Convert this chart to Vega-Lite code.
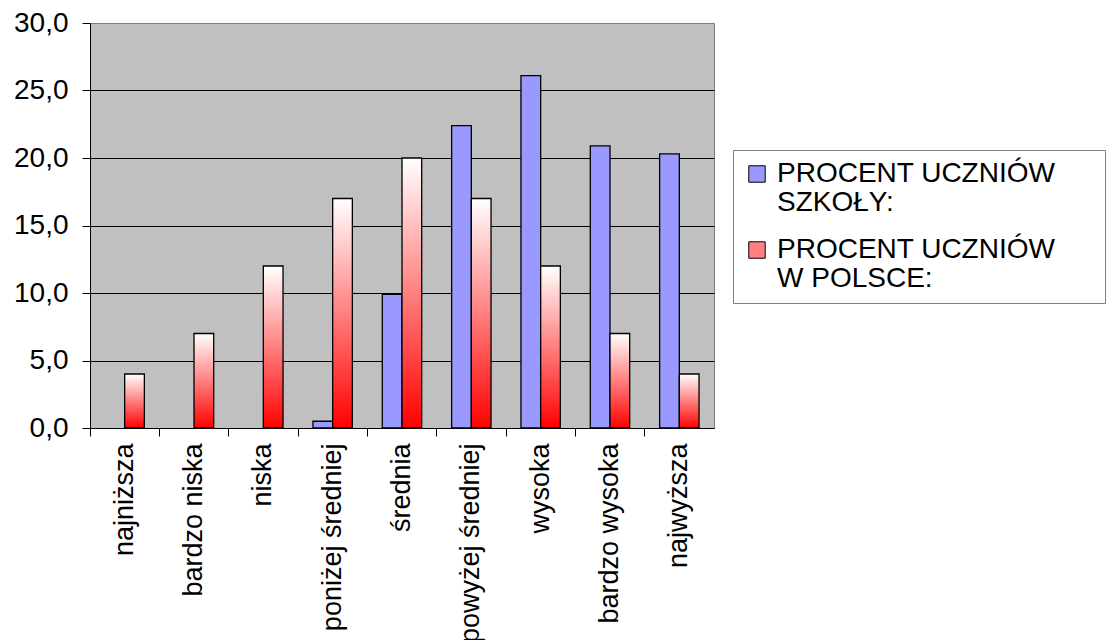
{
  "$schema": "https://vega.github.io/schema/vega-lite/v6.json",
  "autosize": {"type": "none"},
  "padding": {"left": 90, "top": 23, "right": 398, "bottom": 212},
  "width": 624,
  "height": 405,
  "background": "white",
  "config": {
    "view": {"fill": "#C0C0C0", "stroke": "#808080", "strokeWidth": 1},
    "font": "Liberation Sans",
    "axis": {"labelFont": "Liberation Sans", "labelFontSize": 28, "labelColor": "black", "domainColor": "black", "tickColor": "black", "tickSize": 8, "title": null}
  },
  "data": {"values": [
    {"kategoria": "najniższa", "seria": "PROCENT UCZNIÓW W POLSCE:", "procent": 4},
    {"kategoria": "bardzo niska", "seria": "PROCENT UCZNIÓW W POLSCE:", "procent": 7},
    {"kategoria": "niska", "seria": "PROCENT UCZNIÓW W POLSCE:", "procent": 12},
    {"kategoria": "poniżej średniej", "seria": "PROCENT UCZNIÓW W POLSCE:", "procent": 17},
    {"kategoria": "średnia", "seria": "PROCENT UCZNIÓW W POLSCE:", "procent": 20},
    {"kategoria": "powyżej średniej", "seria": "PROCENT UCZNIÓW W POLSCE:", "procent": 17},
    {"kategoria": "wysoka", "seria": "PROCENT UCZNIÓW W POLSCE:", "procent": 12},
    {"kategoria": "bardzo wysoka", "seria": "PROCENT UCZNIÓW W POLSCE:", "procent": 7},
    {"kategoria": "najwyższa", "seria": "PROCENT UCZNIÓW W POLSCE:", "procent": 4},
    {"kategoria": "poniżej średniej", "seria": "PROCENT UCZNIÓW SZKOŁY:", "procent": 0.5},
    {"kategoria": "średnia", "seria": "PROCENT UCZNIÓW SZKOŁY:", "procent": 9.9},
    {"kategoria": "powyżej średniej", "seria": "PROCENT UCZNIÓW SZKOŁY:", "procent": 22.4},
    {"kategoria": "wysoka", "seria": "PROCENT UCZNIÓW SZKOŁY:", "procent": 26.1},
    {"kategoria": "bardzo wysoka", "seria": "PROCENT UCZNIÓW SZKOŁY:", "procent": 20.9},
    {"kategoria": "najwyższa", "seria": "PROCENT UCZNIÓW SZKOŁY:", "procent": 20.3}
  ]},
  "encoding": {
    "x": {
      "field": "kategoria", "type": "nominal",
      "sort": ["najniższa", "bardzo niska", "niska", "poniżej średniej", "średnia", "powyżej średniej", "wysoka", "bardzo wysoka", "najwyższa"],
      "scale": {"paddingInner": 0, "paddingOuter": 0},
      "axis": {"labelAngle": -90, "bandPosition": 0, "labelPadding": 7, "labelFontSize": 27, "labelLimit": 300, "grid": false}
    },
    "xOffset": {"field": "seria", "type": "nominal", "scale": {"domain": ["PROCENT UCZNIÓW SZKOŁY:", "PROCENT UCZNIÓW W POLSCE:"], "paddingInner": 0, "paddingOuter": 0.76}},
    "y": {
      "field": "procent", "type": "quantitative",
      "scale": {"domain": [0, 30], "nice": false},
      "axis": {"values": [0, 5, 10, 15, 20, 25, 30], "labelExpr": "replace(format(datum.value, '.1f'), '.', ',')", "labelPadding": 14, "grid": true, "gridColor": {"condition": {"test": "datum.value === 30", "value": "#808080"}, "value": "black"}, "gridWidth": 1}
    }
  },
  "layer": [
    {
      "transform": [{"filter": "datum.seria === 'PROCENT UCZNIÓW SZKOŁY:'"}],
      "mark": {"type": "bar", "stroke": "black", "strokeWidth": 1.3},
      "encoding": {
        "fill": {
          "field": "seria", "type": "nominal",
          "scale": {"domain": ["PROCENT UCZNIÓW SZKOŁY:", "PROCENT UCZNIÓW W POLSCE:"], "range": ["#9999FF", "#FF8080"]},
          "legend": {
            "title": null,
            "orient": "none",
            "legendX": 643,
            "legendY": 127,
            "padding": 10,
            "strokeColor": "#808080",
            "fillColor": "white",
            "symbolType": "square",
            "symbolSize": 270,
            "symbolStrokeColor": "black",
            "symbolStrokeWidth": 1,
            "labelFont": "Liberation Sans",
            "labelFontSize": 28,
            "labelColor": "black",
            "labelLimit": 500,
            "labelOffset": 6,
            "labelBaseline": "top",
            "rowPadding": 19,
            "labelExpr": "[slice(datum.label, 0, 15) + '\u00a0\u00a0\u00a0\u00a0\u00a0\u200b', slice(datum.label, 16)]",
            "encode": {
              "labels": {"update": {"lineHeight": {"value": 29}, "dy": {"value": -14}}},
              "symbols": {"update": {
                "stroke": {"value": "black"},
                "strokeWidth": {"value": 1},
                "fill": [
                  {"test": "datum.value === 'PROCENT UCZNIÓW W POLSCE:'", "value": {"gradient": "linear", "x1": 0, "y1": 1, "x2": 0, "y2": 0, "stops": [{"offset": 0, "color": "#FF0000"}, {"offset": 1, "color": "#FFFFFF"}]}},
                  {"value": "#9999FF"}
                ]
              }}
            }
          }
        }
      }
    },
    {
      "transform": [{"filter": "datum.seria === 'PROCENT UCZNIÓW W POLSCE:'"}],
      "mark": {
        "type": "bar", "stroke": "black", "strokeWidth": 1.3,
        "fill": {"gradient": "linear", "x1": 0, "y1": 1, "x2": 0, "y2": 0, "stops": [{"offset": 0, "color": "#FF0000"}, {"offset": 1, "color": "#FFFFFF"}]}
      }
    }
  ]
}
